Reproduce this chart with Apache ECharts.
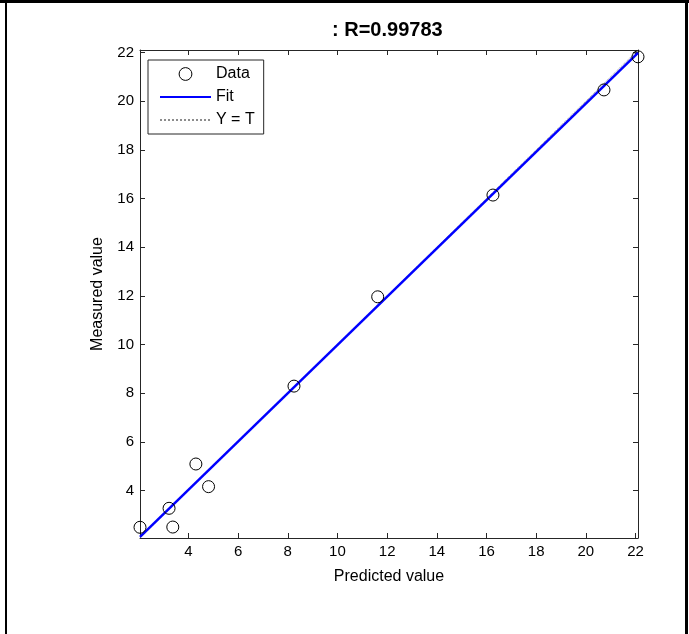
<!DOCTYPE html>
<html>
<head>
<meta charset="utf-8">
<script src="https://cdn.jsdelivr.net/npm/echarts@6/dist/echarts.min.js"></script>
<style>
  html, body { margin: 0; padding: 0; background: #fff; }
  #chart { width: 689px; height: 634px; }
</style>
</head>
<body>
<div id="chart"></div>
<script>
// regression plot: measured vs predicted
const predicted = [2.05, 3.22, 3.37, 4.3, 4.81, 8.25, 11.62, 16.26, 20.73, 22.1]
const measured = [2.49, 3.27, 2.5, 5.09, 4.16, 8.29, 11.96, 16.14, 20.46, 21.82]
// fit line end points (T, Y)
const fitT = [2.05, 22.1]
const fitY = [2.1, 21.98]
const axisMin = 2.05
const axisMax = 22.1
const tickValues = [4, 6, 8, 10, 12, 14, 16, 18, 20, 22]
const titleText = ': R=0.99783'

const font = 'Liberation Sans, Arial, sans-serif'
const axisColor = '#262626'

function makeAxis(pos, showLabel, name) {
  return {
    type: 'value',
    position: pos,
    min: axisMin,
    max: axisMax,
    name: name,
    nameLocation: 'middle',
    nameGap: pos === 'bottom' ? 31 : 34,
    nameTextStyle: { color: '#000', fontSize: 16, fontFamily: font },
    axisLine: { show: true, onZero: false, lineStyle: { color: axisColor, width: 1 } },
    axisTick: {
      show: true,
      inside: true,
      length: 5,
      customValues: tickValues,
      lineStyle: { color: axisColor },
    },
    axisLabel: {
      show: showLabel,
      customValues: tickValues,
      color: '#000',
      fontSize: 15,
      fontFamily: font,
      margin: 6,
    },
    splitLine: { show: false },
  }
}

// legend: hide the symbol on the two line entries
const hiddenSymbol = { color: 'rgba(0,0,0,0)', borderColor: 'rgba(0,0,0,0)', opacity: 0 }

let myChart = echarts.init(document.getElementById('chart'))
myChart.setOption({
  animation: false,
  backgroundColor: '#fff',
  title: {
    text: titleText,
    left: 332,
    top: 20,
    padding: 0,
    textStyle: { color: '#000', fontSize: 20, fontWeight: 'bold', fontFamily: font },
  },
  grid: {
    left: 140,
    top: 50,
    width: 498,
    height: 488,
  },
  legend: {
    left: 148,
    top: 60,
    orient: 'vertical',
    data: [
      { name: 'Data', itemStyle: { borderWidth: 1, borderColor: '#000', color: 'rgba(0,0,0,0)' } },
      { name: 'Fit', itemStyle: hiddenSymbol },
      { name: 'Y = T', itemStyle: hiddenSymbol },
    ],
    itemWidth: 51,
    itemHeight: 16,
    itemGap: 7,
    itemTextGap: 7,
    padding: [6, 9, 6, 11],
    borderColor: axisColor,
    borderWidth: 1,
    backgroundColor: '#fff',
    textStyle: { color: '#000', fontSize: 16, fontFamily: font },
  },
  xAxis: [
    makeAxis('bottom', true, 'Predicted value'),
    makeAxis('top', false, ''),
  ],
  yAxis: [
    makeAxis('left', true, 'Measured value'),
    makeAxis('right', false, ''),
  ],
  graphic: [
    { type: 'rect', shape: { x: 0, y: 0, width: 689, height: 3 }, style: { fill: '#000' } },
    { type: 'rect', shape: { x: 5, y: 0, width: 2, height: 634 }, style: { fill: '#000' } },
    { type: 'rect', shape: { x: 685, y: 0, width: 3, height: 634 }, style: { fill: '#000' } },
  ],
  series: [
    {
      name: 'Y = T',
      type: 'line',
      symbol: 'none',
      lineStyle: { color: '#8c8c8c', width: 1, type: 'dotted' },
      itemStyle: { color: '#8c8c8c' },
      data: [
        [axisMin, axisMin],
        [axisMax, axisMax],
      ],
      z: 2,
    },
    {
      name: 'Fit',
      type: 'line',
      symbol: 'none',
      lineStyle: { color: '#0000ff', width: 2.5 },
      itemStyle: { color: '#0000ff' },
      data: fitT.map((t, i) => [t, fitY[i]]),
      z: 3,
    },
    {
      name: 'Data',
      type: 'line',
      symbol: 'circle',
      symbolSize: 12,
      showAllSymbol: true,
      lineStyle: { opacity: 0 },
      itemStyle: { color: 'rgba(0,0,0,0)', borderColor: '#000', borderWidth: 1 },
      data: predicted.map((p, i) => [p, measured[i]]),
      z: 4,
    },
  ],
})
</script>
</body>
</html>
